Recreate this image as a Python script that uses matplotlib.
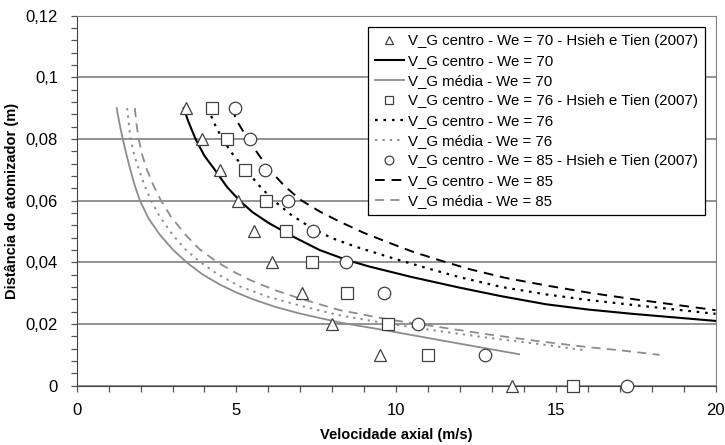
import numpy as np
import matplotlib
matplotlib.use('Agg')
import matplotlib.pyplot as plt
from matplotlib.ticker import MultipleLocator, FuncFormatter

plt.rcParams['font.family'] = ['Liberation Sans', 'DejaVu Sans']
plt.rcParams['font.size'] = 10

# Hsieh e Tien (2007) measured points
y_pts = [0.09, 0.08, 0.07, 0.06, 0.05, 0.04, 0.03, 0.02, 0.01, 0.0]
x_we70 = [3.41, 3.91, 4.49, 5.05, 5.54, 6.12, 7.06, 8.0, 9.48, 13.64]
x_we76 = [4.22, 4.71, 5.27, 5.94, 6.56, 7.37, 8.46, 9.76, 10.99, 15.55]
x_we85 = [4.94, 5.44, 5.88, 6.62, 7.40, 8.42, 9.61, 10.68, 12.78, 17.22]

# V_G centro curves
c70_x = [3.35, 3.5, 3.72, 4.0, 4.36, 4.7, 5.1, 5.5, 6.0, 6.8, 7.6, 8.44, 9.17, 10.5, 11.98, 13.3, 14.69, 16.0, 17.39, 20.0]
c70_y = [0.09, 0.0855, 0.0800, 0.0745, 0.0695, 0.0645, 0.0600, 0.0563, 0.0528, 0.0482, 0.0440, 0.0408, 0.0386, 0.0352, 0.0318, 0.0290, 0.0264, 0.0247, 0.0233, 0.0210]
c76_x = [4.11, 4.3, 4.56, 4.9, 5.3, 5.7, 6.15, 6.7, 7.34, 8.0, 8.75, 10.0, 11.0, 11.98, 13.3, 14.69, 16.0, 17.39, 20.0]
c76_y = [0.09, 0.0852, 0.0800, 0.0748, 0.0700, 0.0650, 0.0602, 0.0555, 0.0512, 0.0478, 0.0450, 0.0410, 0.0380, 0.0352, 0.0320, 0.0296, 0.0278, 0.0262, 0.0233]
c85_x = [4.84, 5.05, 5.36, 5.7, 6.04, 6.5, 7.0, 7.6, 8.23, 9.0, 9.79, 10.5, 11.35, 12.29, 13.4, 14.69, 16.0, 17.39, 20.0]
c85_y = [0.09, 0.0852, 0.0800, 0.0748, 0.0700, 0.0648, 0.0603, 0.0565, 0.0532, 0.0495, 0.0463, 0.0435, 0.0407, 0.0378, 0.0350, 0.0325, 0.0302, 0.0281, 0.0245]

# V_G media curves
m70_x = [1.25, 1.34, 1.44, 1.56, 1.68, 1.82, 1.98, 2.25, 2.6, 3.0, 3.44, 3.95, 4.48, 5.0, 5.52, 6.2, 6.98, 8.23, 9.8, 11.35, 12.6, 13.85]
m70_y = [0.09, 0.0850, 0.0800, 0.0748, 0.0700, 0.0648, 0.0600, 0.0542, 0.0490, 0.0442, 0.0400, 0.0360, 0.0328, 0.0302, 0.0280, 0.0256, 0.0234, 0.0205, 0.0177, 0.0148, 0.0125, 0.0102]
m76_x = [1.58, 1.63, 1.69, 1.8, 1.95, 2.12, 2.32, 2.6, 3.0, 3.4, 3.85, 4.4, 5.1, 6.0, 6.98, 8.23, 9.8, 11.35, 12.9, 14.48, 15.9]
m76_y = [0.09, 0.0850, 0.0800, 0.0748, 0.0700, 0.0650, 0.0602, 0.0548, 0.0490, 0.0442, 0.0402, 0.0362, 0.0322, 0.0288, 0.0260, 0.0228, 0.0200, 0.0177, 0.0155, 0.0135, 0.0115]
m85_x = [1.82, 1.87, 1.94, 2.05, 2.2, 2.4, 2.63, 2.95, 3.4, 3.85, 4.38, 4.9, 5.42, 6.2, 6.98, 8.23, 9.8, 11.35, 12.9, 14.48, 16.0, 16.98, 18.25]
m85_y = [0.09, 0.0850, 0.0800, 0.0748, 0.0700, 0.0650, 0.0602, 0.0548, 0.0490, 0.0442, 0.0402, 0.0370, 0.0343, 0.0310, 0.0283, 0.0245, 0.0214, 0.0190, 0.0166, 0.0144, 0.0125, 0.0115, 0.0100]

fig = plt.figure(figsize=(7.25, 4.45), dpi=100)
ax = fig.add_axes([0.1058, 0.1333, 0.8812, 0.8317])

gray = '#8c8c8c'
mk = dict(linestyle='none', markerfacecolor='white', markeredgecolor='#404040',
          markersize=9, markeredgewidth=0.9, clip_on=False, zorder=4)
dot = (0, (1.2, 2.6))
dash = (0, (5, 3.5))

ax.plot(x_we70, y_pts, marker='^', label='V_G centro - We = 70 - Hsieh e Tien (2007)', **mk)
ax.plot(c70_x, c70_y, color='black', lw=1.5, label='V_G centro - We = 70')
ax.plot(m70_x, m70_y, color=gray, lw=1.3, label='V_G média - We = 70')
ax.plot(x_we76, y_pts, marker='s', label='V_G centro - We = 76 - Hsieh e Tien (2007)', **mk)
ax.plot(c76_x, c76_y, color='black', lw=1.6, ls=dot, label='V_G centro - We = 76')
ax.plot(m76_x, m76_y, color=gray, lw=1.4, ls=dot, label='V_G média - We = 76')
ax.plot(x_we85, y_pts, marker='o', label='V_G centro - We = 85 - Hsieh e Tien (2007)', **mk)
ax.plot(c85_x, c85_y, color='black', lw=1.4, ls=dash, label='V_G centro - We = 85')
ax.plot(m85_x, m85_y, color=gray, lw=1.3, ls=dash, label='V_G média - We = 85')

ax.set_xlim(0, 20)
ax.set_ylim(0, 0.12)
ax.xaxis.set_major_locator(MultipleLocator(5))
ax.xaxis.set_minor_locator(MultipleLocator(1))
ax.yaxis.set_major_locator(MultipleLocator(0.02))
ax.yaxis.set_minor_locator(MultipleLocator(0.004))
ax.yaxis.set_major_formatter(FuncFormatter(lambda v, p: f"{round(v, 4):g}".replace('.', ',')))
ax.tick_params(which='both', direction='out', length=4.5, width=0.9, color='#555555', labelsize=12)
ax.tick_params(axis='x', pad=8)
ax.tick_params(axis='y', pad=9)

ax.grid(axis='y', which='major', color='#808080', lw=1.2)
ax.set_axisbelow(True)
for s in ['left', 'bottom']:
    ax.spines[s].set_color('#444444')
for s in ['top', 'right']:
    ax.spines[s].set_color('#808080')

ax.set_xlabel('Velocidade axial (m/s)', fontweight='bold', fontsize=10.5, labelpad=7)
ax.set_ylabel('Distância do atomizador (m)', fontweight='bold', fontsize=10.5, labelpad=5)

leg = ax.legend(loc='upper right', bbox_to_anchor=(705 / 725, 1 - 27 / 445),
                bbox_transform=fig.transFigure, borderaxespad=0, fancybox=False,
                framealpha=1, edgecolor='black', handlelength=1.9, handletextpad=0.3,
                borderpad=0.45, labelspacing=0.4, fontsize=10.8, markerscale=0.7)
leg.get_frame().set_linewidth(0.9)

fig.savefig('out.png', dpi=100)
